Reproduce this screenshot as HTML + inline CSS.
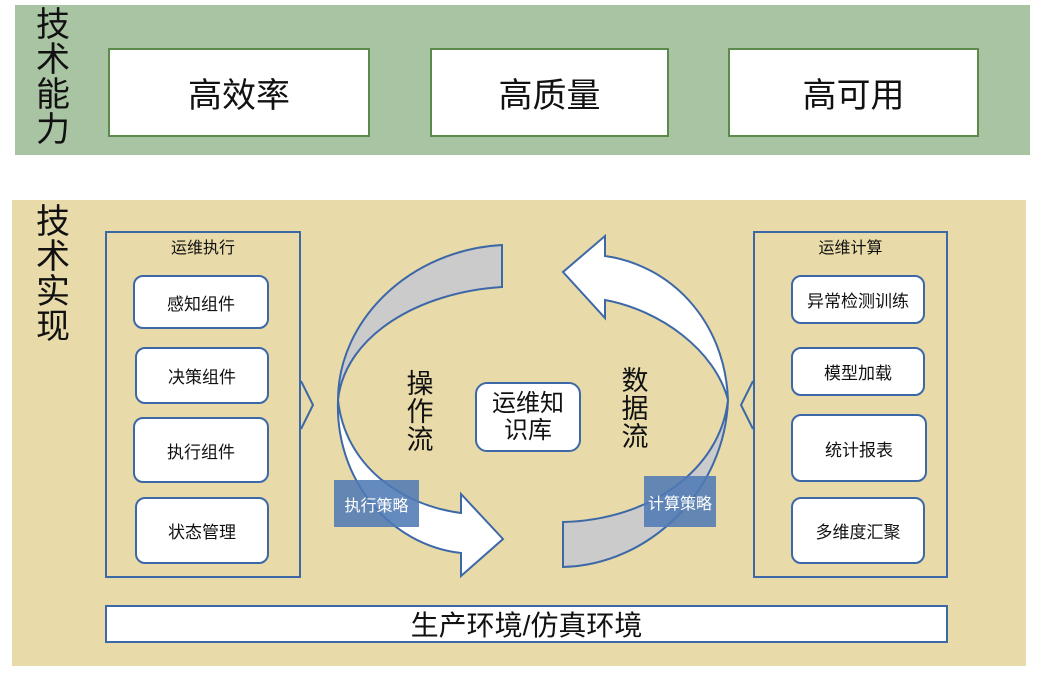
<!DOCTYPE html>
<html><head><meta charset="utf-8"><style>
body{margin:0;width:1044px;height:674px;background:#fff;position:relative;overflow:hidden;font-family:"Liberation Sans","Noto Sans CJK SC",sans-serif;}
.a{position:absolute;box-sizing:border-box;}
.c{display:flex;align-items:center;justify-content:center;text-align:center;}
.vt{position:absolute;font-size:34px;line-height:35px;width:40px;text-align:center;color:#111;}
.gb{background:#fff;border:2px solid #5b8a4a;font-size:34px;color:#111;}
.cont{border:2px solid #3d68a8;}
.rb{background:#fff;border:2px solid #3d68a8;border-radius:10px;font-size:17px;color:#111;}
</style></head><body>
<div class="a" style="left:15px;top:5px;width:1015px;height:150px;background:#a9c4a3"></div>
<div class="vt" style="left:33px;top:8px">技<br>术<br>能<br>力</div>
<div class="a c gb" style="left:108px;top:48px;width:262px;height:89px">高效率</div>
<div class="a c gb" style="left:430px;top:48px;width:239px;height:89px">高质量</div>
<div class="a c gb" style="left:728px;top:48px;width:251px;height:89px">高可用</div>

<div class="a" style="left:12px;top:200px;width:1014px;height:466px;background:#e8dba9"></div>
<div class="vt" style="left:33px;top:205px">技<br>术<br>实<br>现</div>

<div class="a cont" style="left:105px;top:231px;width:196px;height:347px"></div>
<div class="a" style="left:105px;top:234px;width:196px;text-align:center;font-size:16px;color:#111">运维执行</div>
<div class="a c rb" style="left:133px;top:275px;width:136px;height:54px">感知组件</div>
<div class="a c rb" style="left:135px;top:347px;width:134px;height:57px">决策组件</div>
<div class="a c rb" style="left:133px;top:417px;width:136px;height:66px">执行组件</div>
<div class="a c rb" style="left:135px;top:497px;width:134px;height:67px">状态管理</div>

<div class="a cont" style="left:753px;top:231px;width:195px;height:347px"></div>
<div class="a" style="left:753px;top:234px;width:195px;text-align:center;font-size:16px;color:#111">运维计算</div>
<div class="a c rb" style="left:791px;top:275px;width:134px;height:49px">异常检测训练</div>
<div class="a c rb" style="left:791px;top:347px;width:134px;height:49px">模型加载</div>
<div class="a c rb" style="left:791px;top:414px;width:136px;height:68px">统计报表</div>
<div class="a c rb" style="left:791px;top:497px;width:134px;height:67px">多维度汇聚</div>

<div class="a c" style="left:105px;top:605px;width:843px;height:38px;background:#fff;border:2px solid #3d68a8;font-size:28px;color:#111">生产环境/仿真环境</div>

<svg class="a" style="left:0;top:0" width="1044" height="674">
<g stroke="#3d68a8" stroke-width="2" stroke-linejoin="miter">
<path d="M301,381 L313,405 L301,429" fill="none"/>
<path d="M753,381 L741,405 L753,429" fill="none"/>
<path d="M502,245 C410,250 338,320 338,400 C345,335 420,292 502,287 Z" fill="#cbcbcb"/>
<path d="M338,400 C345,465 400,505 461,513 L461,494 L503,539 L461,576 L461,553 C390,545 335,480 338,400 Z" fill="#fff"/>
<path d="M563,567 C650,565 725,490 728,400 C720,470 650,520 563,522 Z" fill="#cbcbcb"/>
<path d="M728,400 C725,320 670,265 605,256 L605,236 L563,272 L605,318 L605,300 C660,310 715,350 728,400 Z" fill="#fff"/>
</g>
</svg>

<div class="a c" style="left:334px;top:480px;width:85px;height:47px;background:rgba(80,122,180,0.88);color:#fff;font-size:16px">执行策略</div>
<div class="a c" style="left:644px;top:476px;width:72px;height:51px;background:rgba(80,122,180,0.88);color:#fff;font-size:16px">计算策略</div>
<div class="a c" style="left:475px;top:382px;width:106px;height:70px;background:#fff;border:2px solid #3d68a8;border-radius:12px;font-size:24px;line-height:27px;color:#111">运维知<br>识库</div>
<div class="vt" style="left:400px;top:370px;font-size:27px;line-height:28px">操<br>作<br>流</div>
<div class="vt" style="left:615px;top:367px;font-size:27px;line-height:28px">数<br>据<br>流</div>
</body></html>
